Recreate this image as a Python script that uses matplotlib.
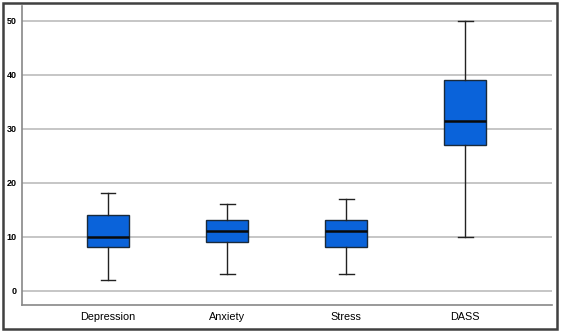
import matplotlib
matplotlib.use("Agg")
import matplotlib.pyplot as plt
from matplotlib.patches import Rectangle

categories = ["Depression", "Anxiety", "Stress", "DASS"]
whisker_low = [2, 3, 3, 10]
q1 = [8, 9, 8, 27]
median = [10, 11, 11, 31.5]
q3 = [14, 13, 13, 39]
whisker_high = [18, 16, 17, 50]
yticks = [0, 10, 20, 30, 40, 50]

plt.rcParams['font.family'] = ['Liberation Sans', 'DejaVu Sans']

fig = plt.figure(figsize=(5.61, 3.32), dpi=100)
ax = fig.add_axes([22/561, 1-305/332, (552-22)/561, (305-6)/332])

stats = []
for i, c in enumerate(categories):
    stats.append(dict(label=c, whislo=whisker_low[i], q1=q1[i], med=median[i],
                      q3=q3[i], whishi=whisker_high[i], fliers=[]))

positions = list(range(1, len(categories)+1))
ax.bxp(stats, positions=positions, widths=0.353, patch_artist=True,
       boxprops=dict(facecolor='#0A63DA', edgecolor='#1a2a3a', linewidth=1.0),
       medianprops=dict(color='#0a0a0a', linewidth=1.8),
       whiskerprops=dict(color='#222222', linewidth=1.0),
       capprops=dict(color='#222222', linewidth=1.0),
       capwidths=0.125, showfliers=False, zorder=3)

ax.set_ylim(-2.65, 52.7)
ax.set_xlim(0.277, 4.73)
ax.set_yticks(yticks)
ax.set_yticklabels([str(v) for v in yticks], fontsize=6.5, fontweight='bold')
ax.set_xticks(positions)
ax.set_xticklabels(categories, fontsize=7.8)
ax.tick_params(axis='both', length=0, pad=4)
ax.tick_params(axis='x', pad=5)
for y in yticks:
    ax.axhline(y, color='#c2c2c2', linewidth=1.3, zorder=1)
ax.spines['top'].set_visible(False)
ax.spines['right'].set_visible(False)
ax.spines['left'].set_color('#888888')
ax.spines['bottom'].set_color('#888888')
ax.spines['left'].set_linewidth(1.2)
ax.spines['bottom'].set_linewidth(1.2)

fig.patches.append(Rectangle((3/561, 3/332), 554/561, 326/332, transform=fig.transFigure,
                             fill=False, edgecolor='#404040', linewidth=1.8))

fig.savefig("out.png", dpi=100)
